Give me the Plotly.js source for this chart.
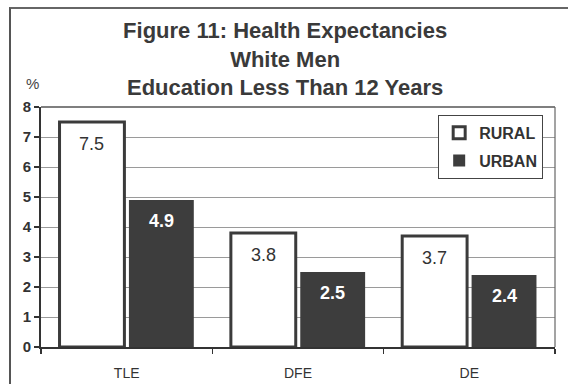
<!DOCTYPE html>
<html>
<head>
<meta charset="utf-8">
<script src="https://cdn.plot.ly/plotly-3.0.1.min.js"></script>
<style>
  html, body { margin: 0; padding: 0; background: #fff; }
  #wrap { position: relative; width: 568px; height: 384px; overflow: hidden; }
  #chart { width: 568px; height: 384px; }
  #frame {
    position: absolute; left: 9px; top: 7px; width: 600px; height: 400px;
    border-left: 2px solid #555; border-top: 2px solid #666;
    pointer-events: none;
  }
</style>
</head>
<body>
<div id="wrap">
  <div id="chart"></div>
  <div id="frame"></div>
</div>
<script>
// Health expectancy differences, white men with < 12 years of education
const categories = ['TLE', 'DFE', 'DE'];
const seriesNames = ['RURAL', 'URBAN'];
const ruralValues = [7.5, 3.8, 3.7];
const urbanValues = [4.9, 2.5, 2.4];
const yTicks = [0, 1, 2, 3, 4, 5, 6, 7, 8];
const titleLines = ['Figure 11: Health Expectancies', 'White Men', 'Education Less Than 12 Years'];

const W = 568, H = 384;
const M = { l: 41, r: 13, t: 107, b: 37 };
const BARGAP = 0.19;
const BARGROUPGAP = 0.065;

const plotW = W - M.l - M.r;
const catPx = plotW / categories.length;
const halfSlot = catPx * (1 - BARGAP) / 4;   // centre of each bar relative to its category

const FONT = 'Liberation Sans, Arial, sans-serif';
const DARK = '#3b3b3b';

const traces = [
  {
    type: 'bar', name: '<b>' + seriesNames[0] + '</b>', legendgroup: 'r',
    x: categories, y: ruralValues,
    marker: { color: '#ffffff', line: { color: DARK, width: 3 } },
    hoverinfo: 'skip'
  },
  {
    type: 'bar', name: '<b>' + seriesNames[1] + '</b>', legendgroup: 'u',
    x: categories, y: urbanValues,
    marker: { color: '#3d3d3d', line: { color: '#3d3d3d', width: 0 } },
    hoverinfo: 'skip'
  }
];

// value labels sit just inside the top of each bar
const annotations = [];
categories.forEach((c, i) => {
  annotations.push({
    x: c, y: ruralValues[i], xref: 'x', yref: 'y',
    text: String(ruralValues[i]), showarrow: false,
    xshift: -halfSlot, yshift: -22, yanchor: 'middle',
    font: { family: FONT, size: 18, color: '#333333' }
  });
  annotations.push({
    x: c, y: urbanValues[i], xref: 'x', yref: 'y',
    text: '<b>' + urbanValues[i] + '</b>', showarrow: false,
    xshift: halfSlot, yshift: -21, yanchor: 'middle',
    font: { family: FONT, size: 18, color: '#ffffff' }
  });
});
annotations.push({
  xref: 'paper', yref: 'paper', x: -0.016, y: 1.096,
  text: '%', showarrow: false, xanchor: 'center', yanchor: 'middle',
  font: { family: FONT, size: 15, color: '#444' }
});

const layout = {
  width: W, height: H,
  margin: M,
  paper_bgcolor: '#ffffff', plot_bgcolor: '#ffffff',
  font: { family: FONT, color: '#333' },
  title: {
    text: titleLines.map(s => '<b>' + s + '</b>').join('<br>'),
    font: { family: FONT, size: 22, color: '#3a3a3a' },
    x: 0.502, xref: 'container', xanchor: 'center',
    y: 1 - 38 / H, yref: 'container', yanchor: 'top'
  },
  barmode: 'group',
  bargap: BARGAP,
  bargroupgap: BARGROUPGAP,
  showlegend: true,
  legend: {
    x: 0.977, xanchor: 'right', y: 0.967, yanchor: 'top',
    bordercolor: '#444', borderwidth: 1, bgcolor: '#ffffff',
    font: { family: FONT, size: 16, color: '#333' },
    traceorder: 'grouped', tracegroupgap: 4
  },
  xaxis: {
    type: 'category',
    showline: true, linecolor: '#333', linewidth: 2,
    ticks: 'outside', ticklen: 5, tickcolor: '#333', tickwidth: 1.5,
    tickson: 'boundaries',
    showgrid: false, zeroline: false,
    ticklabelstandoff: 12,
    tickfont: { family: FONT, size: 14, color: '#333' },
    fixedrange: true
  },
  yaxis: {
    range: [0, 8],
    tickvals: yTicks,
    ticktext: yTicks.map(v => '<b>' + v + '</b>'),
    showline: true, linecolor: '#333', linewidth: 2,
    ticks: 'outside', ticklen: 5, tickcolor: '#333', tickwidth: 1.5,
    showgrid: true, gridcolor: '#9a9a9a', gridwidth: 1,
    zeroline: false,
    tickfont: { family: FONT, size: 15, color: '#333' },
    fixedrange: true
  },
  shapes: [
    { type: 'line', xref: 'paper', yref: 'paper', x0: 0, x1: 1, y0: 1, y1: 1,
      line: { color: '#555', width: 1.5 } },
    { type: 'line', xref: 'paper', yref: 'paper', x0: 1, x1: 1, y0: 0, y1: 1,
      line: { color: '#666', width: 1.2 } }
  ],
  annotations: annotations
};

Plotly.newPlot('chart', traces, layout, { staticPlot: true, displayModeBar: false });
</script>
</body>
</html>
